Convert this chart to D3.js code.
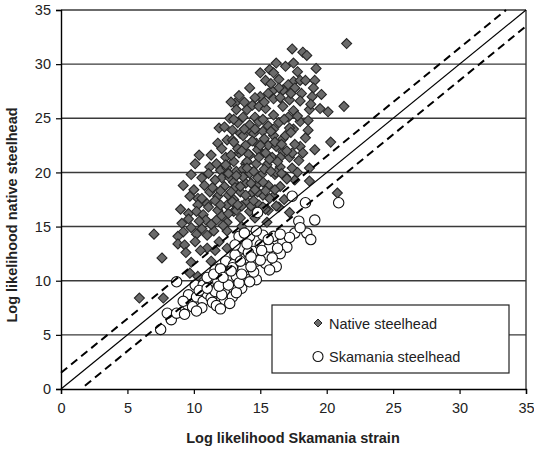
<!DOCTYPE html>
<html>
<head>
<meta charset="utf-8">
<script src="https://cdn.jsdelivr.net/npm/d3@7"></script>
<style>
html,body{margin:0;padding:0;background:#fff;}
svg{display:block;font-family:"Liberation Sans",Arial,sans-serif;}
</style>
</head>
<body>
<svg id="chart" width="534" height="449"></svg>
<script>
// ---- data ----
const xTicks = [0, 5, 10, 15, 20, 25, 30, 35];
const yTicks = [0, 5, 10, 15, 20, 25, 30, 35];
const xTitle = "Log likelihood Skamania strain";
const yTitle = "Log likelihood native steelhead";
const seriesNames = ["Native steelhead", "Skamania steelhead"];

const nativePoints = [
[21.5,31.9],[17.4,31.4],[18.2,31.1],[18.5,30.8],[17.5,30.1],[16.2,30.1],[19.2,29.6],[15.0,29.2],[15.4,28.5],[15.7,29.5],
[16.0,29.2],[16.4,28.6],[17.5,28.4],[18.0,28.5],[18.4,28.5],[19.1,28.5],[17.1,28.1],[16.7,27.6],[16.4,27.8],[17.6,27.8],
[19.0,27.8],[18.1,27.3],[18.9,27.0],[15.9,27.5],[15.0,27.0],[14.6,26.9],[16.0,26.8],[16.5,26.9],[17.2,26.7],[18.0,26.6],
[18.7,25.8],[19.5,25.9],[20.1,25.6],[21.3,26.1],[13.1,26.4],[13.2,25.8],[14.0,25.8],[14.4,26.2],[14.9,26.1],[15.4,25.9],
[16.7,26.1],[17.5,25.7],[13.7,25.1],[14.6,25.1],[16.0,25.3],[17.1,25.1],[18.0,24.7],[18.6,24.8],[12.7,25.0],[12.8,26.5],
[12.9,23.9],[12.5,23.0],[11.8,22.7],[12.9,23.0],[10.1,20.8],[11.2,20.5],[11.7,20.8],[12.0,20.2],[12.5,20.4],[9.8,19.8],
[10.6,19.5],[12.1,19.5],[12.7,19.5],[9.2,18.8],[10.0,18.4],[11.2,18.2],[12.3,18.7],[10.3,17.6],[11.0,17.1],[11.8,17.8],
[12.6,17.9],[10.3,17.0],[9.0,16.6],[9.6,16.2],[10.2,16.4],[11.1,16.8],[11.8,16.5],[12.5,17.0],[13.0,16.4],[11.7,15.6],
[12.5,15.4],[9.1,15.3],[9.2,14.5],[10.6,14.8],[11.5,14.6],[12.5,14.6],
[17.5,24.0],[18.6,23.9],[20.3,22.8],[18.0,22.4],[18.2,21.8],[18.7,20.4],[17.9,21.1],[17.2,21.4],[16.7,21.9],[16.7,23.1],
[16.0,23.4],[15.2,23.8],[14.2,23.9],[13.5,23.6],[13.0,22.8],[13.9,22.5],[14.7,22.7],[15.6,22.5],[16.2,22.4],[13.4,21.8],
[14.2,21.6],[15.1,21.8],[15.9,21.4],[13.0,21.0],[13.9,20.8],[14.7,20.8],[15.5,20.7],[16.5,20.5],[17.4,20.4],[13.2,20.1],
[14.2,19.9],[15.1,19.8],[16.1,19.8],[16.9,19.6],[17.6,19.3],[13.0,19.1],[13.9,19.0],[14.7,18.8],[15.6,18.8],[16.5,18.7],
[13.5,18.2],[14.4,18.1],[15.2,17.9],[16.0,17.8],[13.0,17.5],[14.0,17.3],[14.9,17.0],[16.4,16.8],[20.8,18.1],[13.2,16.5],
[14.2,16.4],[15.6,16.5],[17.2,16.3],[13.5,15.8],[14.6,15.8],[15.5,15.4],
[7.0,14.3],[8.8,14.1],[8.8,13.4],[9.3,13.3],[7.6,12.1],[10.2,14.3],[11.0,14.2],[11.0,13.0],[11.6,12.8],[12.5,13.0],
[9.8,11.7],[11.3,11.8],[11.8,11.1],[9.7,10.7],[10.3,10.4],[5.9,8.4],[7.7,8.4],[10.5,12.8],
[13.3,24.6],[14.2,24.4],[14.9,24.7],[15.6,24.3],[16.4,24.6],[17.2,24.1],[13.7,23.4],[14.5,23.6],[15.3,23.1],[16.1,22.8],
[16.9,23.4],[17.6,22.6],[13.3,22.2],[14.1,21.7],[14.8,22.1],[15.7,21.2],[16.5,21.4],[17.4,21.8],[12.4,21.4],[13.7,20.3],
[14.5,20.1],[15.3,20.3],[16.2,20.0],[17.0,19.4],[12.6,19.9],[13.7,19.6],[14.3,19.0],[15.2,19.1],[16.1,18.4],[13.1,18.6],
[13.9,17.9],[14.8,18.2],[15.7,17.6],[12.9,17.3],[13.6,16.9],[14.3,16.9],[15.4,16.6],[12.1,16.0],[16.2,16.9],[11.6,19.3],
[11.3,21.6],[12.1,22.2],[11.1,19.9],[10.8,18.8],[11.6,17.4],[10.7,16.1],[12.2,15.1],[13.6,15.0],[9.7,17.8],[10.4,21.6],
[11.9,24.1],[13.4,27.1],[14.2,27.8],[15.3,26.5],[17.8,29.3],[16.9,29.8],[18.8,26.3],[19.6,27.2],[17.3,23.7],[18.4,23.2],
[19.1,22.1],[17.8,20.0],[18.7,19.2],[16.8,17.5],[10.1,13.6],[11.9,13.6],[10.9,15.6],[9.8,14.9],[9.4,12.6],
[12.3,24.2],[13.0,24.9],[13.8,24.0],[14.6,24.0],[15.2,24.9],[16.0,24.0],[16.8,24.9],[17.8,25.2],[13.8,26.5],[15.6,27.3],
[17.3,27.3],[15.8,28.2],[13.6,22.0],[14.4,22.9],[15.0,22.5],[15.8,23.8],[16.6,22.6],[17.0,22.0],[12.8,21.6],[14.0,21.0],
[14.9,21.4],[15.4,21.8],[16.3,21.0],[12.4,20.7],[13.2,19.7],[14.0,20.4],[14.8,19.5],[15.8,20.1],[16.6,19.9],[12.8,18.2],
[13.5,18.7],[14.6,18.4],[15.4,18.3],[13.3,17.0],[14.5,17.4],[15.2,16.8],[12.0,17.0],[11.4,18.6],[10.6,17.6],[12.0,18.3],
[11.3,15.2],[10.4,15.5],[9.6,15.7],[12.6,16.2]
];

const skamaniaPoints = [
[7.5,5.5],[8.3,6.4],[8.0,7.0],[8.7,7.0],[8.7,9.9],[9.5,7.8],[9.9,7.6],[9.6,8.7],[10.2,8.5],[10.7,8.1],
[11.0,8.8],[11.3,8.4],[10.1,9.6],[10.7,9.6],[11.2,9.9],[11.8,9.9],[11.6,9.0],[12.3,9.1],[12.3,8.1],[12.6,10.1],
[12.4,11.8],[11.6,11.0],[12.3,10.8],[13.0,9.3],[12.9,8.5],[12.7,7.9],[13.6,9.3],[13.2,10.4],[14.0,10.1],[14.7,10.1],
[13.0,11.5],[13.7,11.1],[14.5,10.8],[13.1,12.4],[13.9,12.1],[14.7,11.8],[15.4,11.6],[16.2,11.3],[15.7,11.0],[13.7,13.0],
[14.5,12.7],[15.5,12.4],[15.0,13.3],[15.7,13.1],[13.4,14.1],[14.2,14.1],[15.2,14.2],[16.0,14.1],[16.7,13.6],[17.0,13.1],
[17.6,14.4],[18.5,14.4],[18.8,13.8],[14.7,14.6],[17.9,15.5],[19.1,15.6],[17.4,17.8],[18.4,17.2],[20.9,17.2],[14.8,16.3],
[11.0,10.3],[11.5,10.6],[12.0,11.1],[12.9,11.2],[14.1,12.6],[15.0,11.9],[14.2,9.9],[13.2,8.9],[12.1,8.7],[10.6,7.5],
[11.4,8.0],[16.5,12.5],[17.2,14.0],[18.0,14.9],
[9.2,8.1],[10.4,9.1],[11.0,9.3],[11.9,9.5],[12.6,9.6],[13.4,9.8],[12.2,10.3],[13.6,10.6],[14.3,11.3],[12.8,10.9],
[13.5,11.8],[14.3,12.2],[15.1,12.8],[14.0,13.4],[13.1,13.3],[15.9,12.1],[16.3,13.0],[13.8,14.4],[15.6,13.8],[16.5,14.3],
[11.7,7.7],[12.0,7.4],[10.2,7.2],[9.3,6.9]
];

// reference lines: y = x and y = x +/- 1.5
const refLines = [
  {name: "equal",  dashed: false, pts: [[0, 0], [35, 35]]},
  {name: "upper",  dashed: true,  pts: [[0, 1.5], [33.5, 35]]},
  {name: "lower",  dashed: true,  pts: [[1.8, 0.3], [35, 33.5]]}
];

// ---- drawing ----
const svg = d3.select("#chart");
const x = d3.scaleLinear().domain([0, 35]).range([61, 526]);
const y = d3.scaleLinear().domain([0, 35]).range([389, 10]);

// horizontal gridlines
svg.append("g").selectAll("line")
  .data(yTicks.filter(d => d > 0))
  .join("line")
  .attr("x1", x(0)).attr("x2", x(35))
  .attr("y1", d => y(d)).attr("y2", d => y(d))
  .attr("stroke", "#3a3a3a").attr("stroke-width", 1.4);

// right border
svg.append("line")
  .attr("x1", x(35)).attr("x2", x(35))
  .attr("y1", y(0)).attr("y2", y(35))
  .attr("stroke", "#3a3a3a").attr("stroke-width", 1.4);

// axes
const xAxis = d3.axisBottom(x).tickValues(xTicks).tickSizeOuter(0).tickSize(5).tickPadding(9);
const yAxis = d3.axisLeft(y).tickValues(yTicks).tickSizeOuter(0).tickSize(5).tickPadding(5);

const gx = svg.append("g").attr("transform", `translate(0,${y(0)})`).call(xAxis);
const gy = svg.append("g").attr("transform", `translate(${x(0)},0)`).call(yAxis);
[gx, gy].forEach(g => {
  g.select(".domain").attr("stroke", "#000").attr("stroke-width", 1.4);
  g.selectAll(".tick line").attr("stroke", "#000").attr("stroke-width", 1.2);
  g.selectAll(".tick text").attr("fill", "#222").style("font-size", "14.5px")
    .style("font-family", "'Liberation Sans', Arial, sans-serif");
});

const diamond = r => `M0,${-r}L${r},0L0,${r}L${-r},0Z`;

// native diamonds
svg.append("g").selectAll("path")
  .data(nativePoints)
  .join("path")
  .attr("d", diamond(5))
  .attr("transform", d => `translate(${x(d[0])},${y(d[1])})`)
  .attr("fill", "#6a6a6a")
  .attr("stroke", "#262626")
  .attr("stroke-width", 1.1);

// skamania circles
svg.append("g").selectAll("circle")
  .data(skamaniaPoints)
  .join("circle")
  .attr("cx", d => x(d[0])).attr("cy", d => y(d[1]))
  .attr("r", 5.2)
  .attr("fill", "#fff")
  .attr("stroke", "#111")
  .attr("stroke-width", 1.1);

// reference lines
const line = d3.line().x(d => x(d[0])).y(d => y(d[1]));
svg.append("g").selectAll("path")
  .data(refLines)
  .join("path")
  .attr("d", d => line(d.pts))
  .attr("fill", "none")
  .attr("stroke", "#000")
  .attr("stroke-width", d => d.dashed ? 2 : 1.2)
  .attr("stroke-dasharray", d => d.dashed ? "8,5" : null);

// legend
const lg = svg.append("g");
lg.append("rect")
  .attr("x", 272).attr("y", 305).attr("width", 237).attr("height", 68)
  .attr("fill", "#fff").attr("stroke", "#222").attr("stroke-width", 1.2);
lg.append("path")
  .attr("d", diamond(4))
  .attr("transform", "translate(318,323)")
  .attr("fill", "#6a6a6a").attr("stroke", "#262626").attr("stroke-width", 1);
lg.append("circle")
  .attr("cx", 318).attr("cy", 356.5).attr("r", 5)
  .attr("fill", "#fff").attr("stroke", "#111").attr("stroke-width", 1.1);
lg.selectAll("text")
  .data(seriesNames)
  .join("text")
  .attr("x", 329)
  .attr("y", (d, i) => i === 0 ? 328.5 : 362)
  .attr("fill", "#222")
  .style("font-size", "14.5px")
  .text(d => d);

// axis titles
svg.append("text")
  .attr("x", 293).attr("y", 443)
  .attr("text-anchor", "middle")
  .attr("font-weight", "bold")
  .attr("fill", "#222")
  .style("font-size", "14.5px")
  .text(xTitle);

svg.append("text")
  .attr("transform", "translate(17,215) rotate(-90)")
  .attr("text-anchor", "middle")
  .attr("font-weight", "bold")
  .attr("fill", "#222")
  .style("font-size", "14.5px")
  .text(yTitle);
</script>
</body>
</html>
